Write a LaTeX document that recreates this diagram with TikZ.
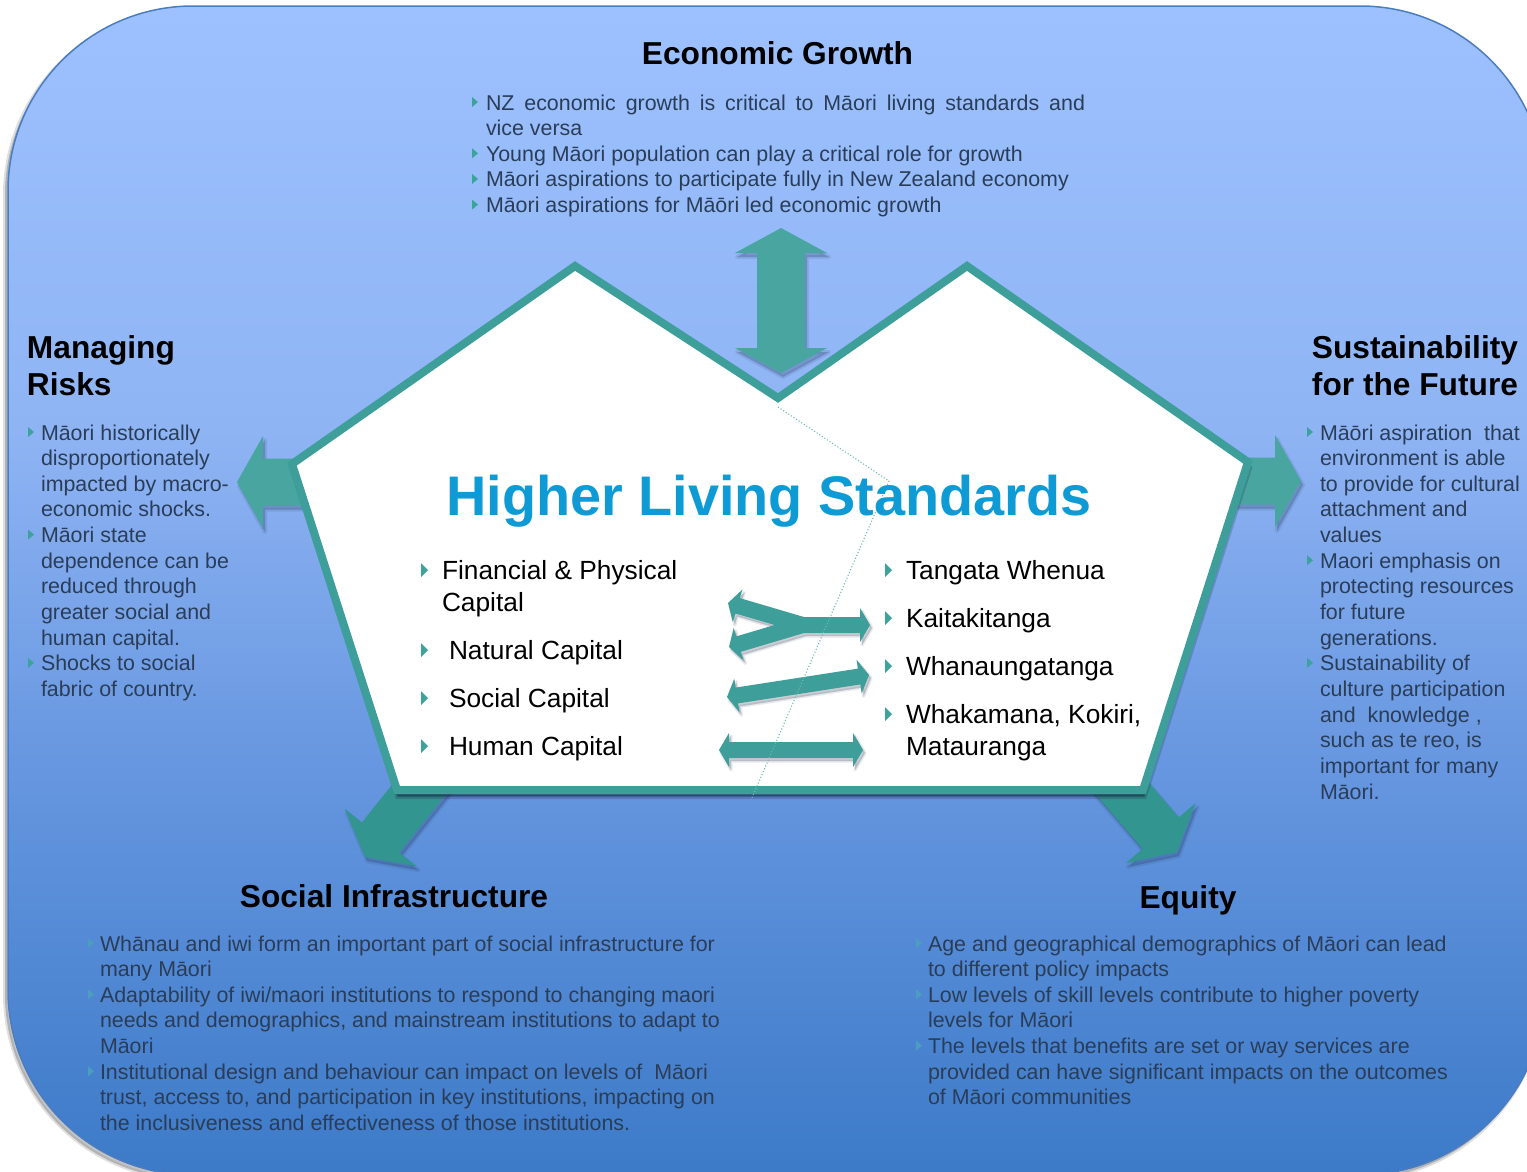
\documentclass[tikz,border=0pt]{standalone}
\usepackage{fontspec}
\setmainfont{Liberation Sans}
\usetikzlibrary{calc}

\definecolor{bgA}{HTML}{9DC1FE}
\definecolor{bgB}{HTML}{8FB4F4}
\definecolor{bgC}{HTML}{6797E0}
\definecolor{bgD}{HTML}{3C7AC8}
\definecolor{frame}{HTML}{4A7DC0}
\definecolor{tealline}{HTML}{3E9E99}
\definecolor{tealarrow}{HTML}{48A59F}
\definecolor{tealdark}{HTML}{33958F}
\definecolor{bodytext}{HTML}{2A3D58}
\definecolor{titleblue}{HTML}{0E9BD5}
\definecolor{bullet}{HTML}{3BA39A}
\definecolor{bulletfaint}{HTML}{4B9EBE}
\definecolor{divider}{HTML}{6DBAB6}
\definecolor{shadowink}{HTML}{1B2A48}

% background gradient, light at the top and deepening towards the bottom
\pgfdeclareverticalshading{bgshade}{100bp}{color(0bp)=(bgD); color(25bp)=(bgD); color(42.75bp)=(bgC); color(56.85bp)=(bgB); color(75bp)=(bgA); color(100bp)=(bgA)}

% stacked lines with a fixed baseline distance; the box baseline is the first line
\newcommand\lineblock[2][25.65pt]{\vtop{\baselineskip=#1\relax\lineskiplimit=-\maxdimen\let\\\cr\halign{##\hfil\cr#2\crcr}}}
\newcommand\rlineblock[2][25.65pt]{\vtop{\baselineskip=#1\relax\lineskiplimit=-\maxdimen\let\\\cr\halign{\hfil##\cr#2\crcr}}}

% small list marker whose base line is #3
\newcommand\bul[3][bul]{\fill[#1] (#2,#3-13) -- (#2,#3-3) -- (#2+6,#3-8) -- cycle;}
% larger list marker centred on #3
\newcommand\bigbul[2]{\fill[bul] (#1,#2-7) -- (#1,#2+7) -- (#1+7,#2) -- cycle;}

% double-headed block arrow: [style]{end A}{end B}{shaft half width}{head half width}{head length}
\newcommand\dblarrow[6][]{%
  \coordinate (dA) at ($(#2)!#6!(#3)$);
  \coordinate (dB) at ($(#3)!#6!(#2)$);
  \path[#1] (#2) -- ($(dA)!#5!90:(#3)$) -- ($(dA)!#4!90:(#3)$) -- ($(dB)!#4!-90:(#2)$)
    -- ($(dB)!#5!-90:(#2)$) -- (#3) -- ($(dB)!#5!90:(#2)$) -- ($(dB)!#4!90:(#2)$)
    -- ($(dA)!#4!-90:(#3)$) -- ($(dA)!#5!-90:(#3)$) -- cycle;}
% single-headed block arrow: [style]{start}{tip}{shaft half width}{head half width}{head length}
\newcommand\onearrow[6][]{%
  \coordinate (sB) at ($(#3)!#6!(#2)$);
  \path[#1] ($(#2)!#4!90:(#3)$) -- ($(sB)!#4!-90:(#2)$) -- ($(sB)!#5!-90:(#2)$) -- (#3)
    -- ($(sB)!#5!90:(#2)$) -- ($(sB)!#4!90:(#2)$) -- ($(#2)!#4!-90:(#3)$) -- cycle;}
% the forked arrow linking two capitals with one concept
\newcommand\forkarrow[1]{%
  \path[#1] (728,603) -- (742.4,589.5) -- (739.8,598.1) -- (804,617) -- (860,617) -- (860,608)
    -- (870,625) -- (860,642) -- (860,633) -- (804,633) -- (740.9,651.8) -- (743.5,660.4)
    -- (729,647) -- (733.7,627.8) -- (736.3,636.4) -- (774.6,625) -- (735.4,613.5)
    -- (732.8,622.1) -- cycle;}

\begin{document}
\begin{tikzpicture}[x=1pt,y=-1pt,
  bodytxt/.style={inner sep=0pt, outer sep=0pt, text=bodytext, font=\fontsize{21.4}{25.65}\selectfont},
  headtxt/.style={inner sep=0pt, outer sep=0pt, text=black, font=\bfseries\fontsize{31.7}{37.5}\selectfont},
  captxt/.style={inner sep=0pt, outer sep=0pt, text=black, font=\fontsize{26.3}{32}\selectfont},
  bul/.style={fill=bullet},
  bulfaint/.style={fill=bulletfaint},
  softshadow/.style={fill=shadowink, draw=shadowink, line width=4, line join=round, opacity=0.10},
  coreshadow/.style={fill=shadowink, opacity=0.14},
  bigarrow/.style={fill=tealarrow},
  lowarrow/.style={fill=tealdark},
  midarrow/.style={fill=tealline}]

\useasboundingbox (0,0) rectangle (1527,1171);
\clip (0,0) rectangle (1527,1171);

% rounded background panel with its soft shadow
\begin{scope}[transform canvas={shift={(-3pt,-4pt)}}]
  \path[softshadow, draw=gray, fill=gray, opacity=0.25, rounded corners=185pt] (8,6) rectangle (1545,1175);
  \path[coreshadow, fill=gray, opacity=0.3, rounded corners=185pt] (8,6) rectangle (1545,1175);
\end{scope}
\shade[shading=bgshade, draw=frame, line width=1.5, rounded corners=185pt]
  (8,6) rectangle (1545,1175);

% block arrows leaving the house shape
\coordinate (egA) at (781,228);
\coordinate (egB) at (781,373);
\coordinate (mrS) at (315,482);
\coordinate (mrT) at (237,482);
\coordinate (sfS) at (1230,481);
\coordinate (sfT) at (1301,481);
\coordinate (siS) at (437,767);
\coordinate (siT) at (365,857);
\coordinate (eqS) at (1102,765);
\coordinate (eqT) at (1177,852);

\begin{scope}[transform canvas={shift={(2pt,-4pt)}}]
  \foreach \s in {softshadow,coreshadow}{
    \dblarrow[\s]{egA}{egB}{24pt}{46pt}{25pt}
    \onearrow[\s]{mrS}{mrT}{23.5pt}{46pt}{26pt}
    \onearrow[\s]{sfS}{sfT}{23.5pt}{46pt}{26pt}
    \onearrow[\s]{siS}{siT}{24pt}{46pt}{25pt}
    \onearrow[\s]{eqS}{eqT}{24pt}{46pt}{25pt}
  }
\end{scope}
\dblarrow[bigarrow]{egA}{egB}{24pt}{46pt}{25pt}
\onearrow[bigarrow]{mrS}{mrT}{23.5pt}{46pt}{26pt}
\onearrow[bigarrow]{sfS}{sfT}{23.5pt}{46pt}{26pt}
\onearrow[lowarrow]{siS}{siT}{24pt}{46pt}{25pt}
\onearrow[lowarrow]{eqS}{eqT}{24pt}{46pt}{25pt}

% house shape with a shadow under its base
\coordinate (pLP) at (575,266);
\coordinate (pV)  at (778,398);
\coordinate (pRP) at (967,266);
\coordinate (pRS) at (1248,462);
\coordinate (pBR) at (1143,790);
\coordinate (pBL) at (397,790);
\coordinate (pLS) at (292,464);
\begin{scope}[transform canvas={shift={(1pt,-6pt)}}]
  \path[softshadow, opacity=0.22, line width=6, line join=miter]
    (pLP) -- (pV) -- (pRP) -- (pRS) -- (pBR) -- (pBL) -- (pLS) -- cycle;
  \path[coreshadow, draw=shadowink, line width=2, opacity=0.3, line join=miter]
    (pLP) -- (pV) -- (pRP) -- (pRS) -- (pBR) -- (pBL) -- (pLS) -- cycle;
\end{scope}
\draw[line width=8, draw=tealline, fill=white, line join=miter]
  (pLP) -- (pV) -- (pRP) -- (pRS) -- (pBR) -- (pBL) -- (pLS) -- cycle;

% arrows between the capitals and the Maori concepts
\coordinate (a2L) at (727,697);
\coordinate (a2R) at (869,675);
\coordinate (a3L) at (719,750);
\coordinate (a3R) at (863,750);
\begin{scope}[transform canvas={shift={(2pt,-3pt)}}]
  \foreach \s in {softshadow,coreshadow}{
    \forkarrow{\s, line width=3}
    \dblarrow[\s, line width=3]{a2L}{a2R}{8pt}{17pt}{10pt}
    \dblarrow[\s, line width=3]{a3L}{a3R}{8pt}{17pt}{10pt}
  }
\end{scope}
\forkarrow{midarrow}
\dblarrow[midarrow]{a2L}{a2R}{8pt}{17pt}{10pt}
\dblarrow[midarrow]{a3L}{a3R}{8pt}{17pt}{10pt}

% dividing line between the two halves
\coordinate (dv1) at (778,407);
\coordinate (dv2) at (889,481);
\coordinate (dv3) at (751,800);
\draw[divider, line width=1.1, dotted] (dv1) -- (dv2) -- (dv3);

% title inside the house
\node[inner sep=0pt, anchor=base, text=titleblue, font=\bfseries\fontsize{55.8}{60}\selectfont]
  (hls) at (769,515) {Higher Living Standards};

% capitals
\bigbul{421}{570}
\node[captxt, anchor=base west] (fpc) at (442,579) {\lineblock[32pt]{Financial \& Physical\\Capital}};
\bigbul{421}{650}
\node[captxt, anchor=base west] (nc) at (449,659) {Natural Capital};
\bigbul{421}{698}
\node[captxt, anchor=base west] (sc) at (449,707) {Social Capital};
\bigbul{421}{746}
\node[captxt, anchor=base west] (hc) at (449,755) {Human Capital};

\bigbul{885}{570}
\node[captxt, anchor=base west] (tw) at (906,579) {Tangata Whenua};
\bigbul{885}{618}
\node[captxt, anchor=base west] (kt) at (906,627) {Kaitakitanga};
\bigbul{885}{666}
\node[captxt, anchor=base west] (wt) at (906,675) {Whanaungatanga};
\bigbul{885}{714}
\node[captxt, anchor=base west] (wkm) at (906,723) {\lineblock[32pt]{Whakamana, Kokiri,\\Matauranga}};

% Economic Growth
\node[headtxt, anchor=base] (egH) at (777.5,64) {Economic Growth};
\node[bodytxt, anchor=base west] (egT) at (486,110) {\lineblock{%
  \makebox[599pt][s]{NZ economic growth is critical to Māori living standards and}\\
  vice versa\\
  Young Māori population can play a critical role for growth\\
  Māori aspirations to participate fully in New Zealand economy\\
  Māori aspirations for Māōri led economic growth}};
\bul{472}{110}
\bul{472}{110+2*25.65}
\bul{472}{110+3*25.65}
\bul{472}{110+4*25.65}

% Managing Risks
\node[headtxt, anchor=base west] (mrH) at (27,358) {\lineblock[37.5pt]{Managing\\Risks}};
\node[bodytxt, anchor=base west] (mrB) at (41,440) {\lineblock{%
  Māori historically\\
  disproportionately\\
  impacted by macro-\\
  economic shocks.\\
  Māori state\\
  dependence can be\\
  reduced through\\
  greater social and\\
  human capital.\\
  Shocks to social\\
  fabric of country.}};
\bul{28}{440}
\bul{28}{440+4*25.65}
\bul{28}{440+9*25.65}

% Sustainability for the Future
\node[headtxt, anchor=base east] (sfH) at (1518,358) {\rlineblock[37.5pt]{Sustainability\\for the Future}};
\node[bodytxt, anchor=base west] (sfB) at (1320,440) {\lineblock{%
  Māōri aspiration\ \ that\\
  environment is able\\
  to provide for cultural\\
  attachment and\\
  values\\
  Maori emphasis on\\
  protecting resources\\
  for future\\
  generations.\\
  Sustainability of\\
  culture participation\\
  and\ \ knowledge ,\\
  such as te reo, is\\
  important for many\\
  Māori.}};
\bul{1307}{440}
\bul{1307}{440+5*25.65}
\bul{1307}{440+9*25.65}

% Social Infrastructure
\node[headtxt, anchor=base] (siH) at (394,907) {Social Infrastructure};
\node[bodytxt, anchor=base west] (siB) at (100,951) {\lineblock{%
  Whānau and iwi form an important part of social infrastructure for\\
  many Māori\\
  Adaptability of iwi/maori institutions to respond to changing maori\\
  needs and demographics, and mainstream institutions to adapt to\\
  Māori\\
  Institutional design and behaviour can impact on levels of\ \ Māori\\
  trust, access to, and participation in key institutions, impacting on\\
  the inclusiveness and effectiveness of those institutions.}};
\bul[bulfaint]{88}{951}
\bul[bulfaint]{88}{951+2*25.65}
\bul[bulfaint]{88}{951+5*25.65}

% Equity
\node[headtxt, anchor=base] (eqH) at (1188,908) {Equity};
\node[bodytxt, anchor=base west] (eqB) at (928,951) {\lineblock{%
  Age and geographical demographics of Māori can lead\\
  to different policy impacts\\
  Low levels of skill levels contribute to higher poverty\\
  levels for Māori\\
  The levels that benefits are set or way services are\\
  provided can have significant impacts on the outcomes\\
  of Māori communities}};
\bul[bulfaint]{916}{951}
\bul[bulfaint]{916}{951+2*25.65}
\bul[bulfaint]{916}{951+4*25.65}

\end{tikzpicture}
\end{document}
